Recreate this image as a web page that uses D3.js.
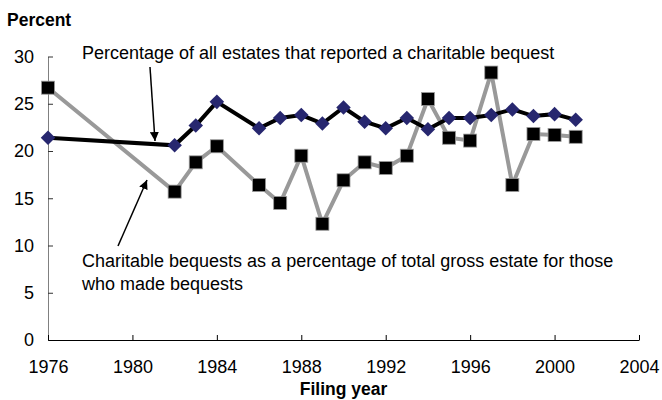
<!DOCTYPE html>
<html>
<head>
<meta charset="utf-8">
<script src="https://cdn.jsdelivr.net/npm/d3@7"></script>
<style>
  body { margin: 0; background: #fff; }
  text { font-family: "Liberation Sans", Arial, sans-serif; }
</style>
</head>
<body>
<div id="chart"></div>
<script>
// filing years for both series
var years = [1976, 1982, 1983, 1984, 1986, 1987, 1988, 1989, 1990, 1991, 1992,
             1993, 1994, 1995, 1996, 1997, 1998, 1999, 2000, 2001];
// percentage of all estates that reported a charitable bequest
var pctReporting = [21.4, 20.6, 22.7, 25.2, 22.4, 23.5, 23.8, 22.9, 24.6, 23.1, 22.4,
                    23.5, 22.3, 23.5, 23.5, 23.8, 24.4, 23.7, 23.9, 23.3];
// bequests as percentage of gross estate
var pctOfEstate = [26.7, 15.7, 18.8, 20.5, 16.4, 14.5, 19.5, 12.3, 16.9, 18.8, 18.2,
                   19.5, 25.5, 21.4, 21.1, 28.3, 16.4, 21.8, 21.7, 21.5];
var xTicks = [1976, 1980, 1984, 1988, 1992, 1996, 2000, 2004];
var yTicks = [0, 5, 10, 15, 20, 25, 30];

var svgWidth = 662;
var svgHeight = 400;
var margin = { top: 56.5, right: 23, bottom: 60, left: 48 };
var chartWidth = svgWidth - margin.left - margin.right;
var chartHeight = svgHeight - margin.top - margin.bottom;

var svg = d3.select("#chart")
  .append("svg")
  .attr("width", svgWidth)
  .attr("height", svgHeight);

var chartGroup = svg.append("g")
  .attr("transform", `translate(${margin.left}, ${margin.top})`);

var xScale = d3.scaleLinear().domain([1976, 2004]).range([0, chartWidth]);
var yScale = d3.scaleLinear().domain([0, 30]).range([chartHeight, 0]);

// axes with inside ticks
var leftAxis = d3.axisLeft(yScale).tickValues(yTicks).tickSizeInner(-5).tickSizeOuter(0).tickPadding(14);
var bottomAxis = d3.axisBottom(xScale).tickValues(xTicks).tickFormat(d3.format("d"))
  .tickSizeInner(-5).tickSizeOuter(0).tickPadding(20);

var yAxisG = chartGroup.append("g").call(leftAxis);
yAxisG.select(".domain").attr("stroke", "#808080");
yAxisG.selectAll(".tick line").attr("stroke", "#333");

var xAxisG = chartGroup.append("g")
  .attr("transform", `translate(0, ${chartHeight})`)
  .call(bottomAxis);

chartGroup.selectAll(".tick text")
  .style("font-size", "18px")
  .style("font-family", "'Liberation Sans', Arial, sans-serif")
  .attr("fill", "#000");

var rows = years.map(function(y, i) {
  return { year: y, rep: pctReporting[i], est: pctOfEstate[i] };
});

var lineRep = d3.line().x(d => xScale(d.year)).y(d => yScale(d.rep));
var lineEst = d3.line().x(d => xScale(d.year)).y(d => yScale(d.est));

chartGroup.append("path")
  .datum(rows)
  .attr("d", lineEst)
  .attr("fill", "none")
  .attr("stroke", "#999999")
  .attr("stroke-width", 4);

chartGroup.selectAll("rect.sq")
  .data(rows)
  .enter()
  .append("rect")
  .attr("class", "sq")
  .attr("x", d => xScale(d.year) - 6.5)
  .attr("y", d => yScale(d.est) - 6.5)
  .attr("width", 13)
  .attr("height", 13)
  .attr("fill", "#000")
  .attr("stroke", "#999")
  .attr("stroke-width", 0.8);

chartGroup.append("path")
  .datum(rows)
  .attr("d", lineRep)
  .attr("fill", "none")
  .attr("stroke", "#000")
  .attr("stroke-width", 4);

chartGroup.selectAll("path.dia")
  .data(rows)
  .enter()
  .append("path")
  .attr("class", "dia")
  .attr("d", d3.symbol().type(d3.symbolDiamond2).size(135))
  .attr("transform", d => `translate(${xScale(d.year)}, ${yScale(d.rep)})`)
  .attr("fill", "#27276f");

// y axis title
svg.append("text")
  .attr("x", 7)
  .attr("y", 26)
  .style("font-size", "17.5px")
  .style("font-weight", "bold")
  .text("Percent");

// x axis title
svg.append("text")
  .attr("x", margin.left + xScale(1990))
  .attr("y", 395)
  .attr("text-anchor", "middle")
  .style("font-size", "17.5px")
  .style("font-weight", "bold")
  .text("Filing year");

// annotations
svg.append("defs").append("marker")
  .attr("id", "arrow")
  .attr("viewBox", "0 0 10 10")
  .attr("refX", 10)
  .attr("refY", 5)
  .attr("markerWidth", 9)
  .attr("markerHeight", 9)
  .attr("markerUnits", "userSpaceOnUse")
  .attr("orient", "auto")
  .append("path")
  .attr("d", "M0,0 L10,5 L0,10 z")
  .attr("fill", "#000");

svg.append("text")
  .attr("x", 82)
  .attr("y", 59)
  .style("font-size", "18px")
  .text("Percentage of all estates that reported a charitable bequest");

svg.append("line")
  .attr("x1", 150).attr("y1", 67)
  .attr("x2", 155).attr("y2", 141)
  .attr("stroke", "#000")
  .attr("stroke-width", 1.5)
  .attr("marker-end", "url(#arrow)");

var note2 = svg.append("text")
  .attr("x", 82)
  .attr("y", 266.5)
  .style("font-size", "18px");
note2.append("tspan").attr("x", 82).text("Charitable bequests as a percentage of total gross estate for those");
note2.append("tspan").attr("x", 82).attr("dy", 23.5).text("who made bequests");

svg.append("line")
  .attr("x1", 118).attr("y1", 246)
  .attr("x2", 147).attr("y2", 180)
  .attr("stroke", "#000")
  .attr("stroke-width", 1.5)
  .attr("marker-end", "url(#arrow)");
</script>
</body>
</html>
